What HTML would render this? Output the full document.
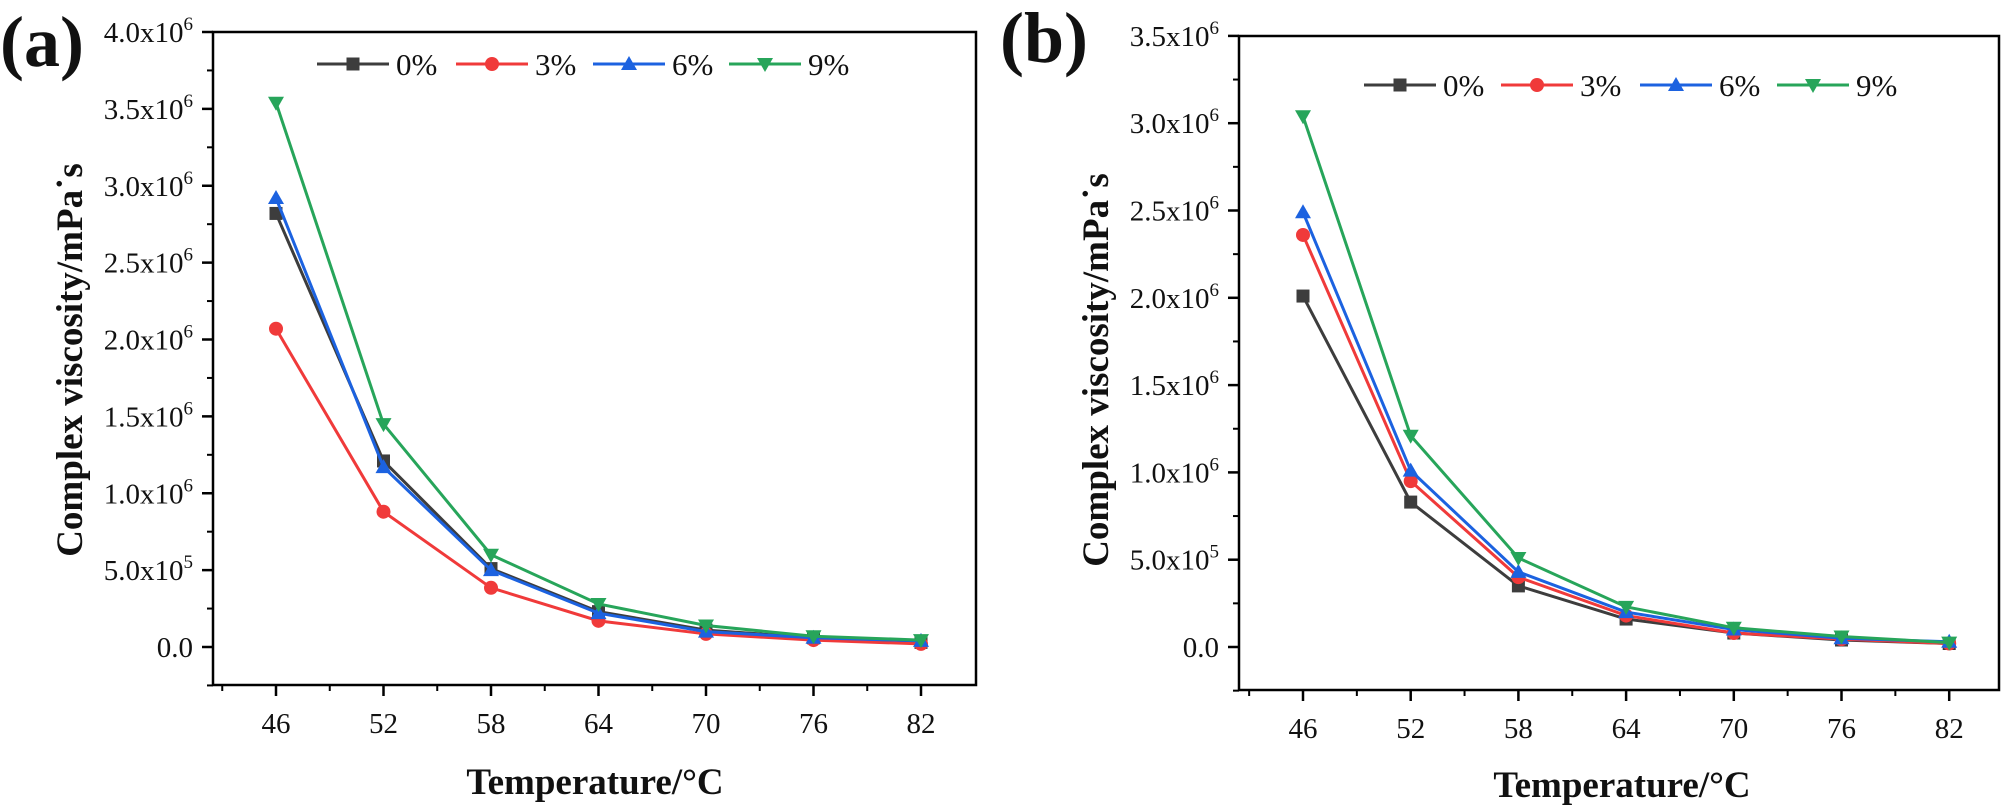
<!DOCTYPE html>
<html><head><meta charset="utf-8"><style>
html,body{margin:0;padding:0;background:#fff;}
svg{display:block;font-family:"Liberation Serif","DejaVu Serif",serif;}
svg text{font-family:"Liberation Serif","DejaVu Serif",serif;}
</style></head><body>
<svg id="chart" width="2001" height="808" viewBox="0 0 2001 808" xmlns="http://www.w3.org/2000/svg" font-family="Liberation Serif, DejaVu Serif, serif"></svg>
<script>
const categories = [46, 52, 58, 64, 70, 76, 82];
const seriesNames = ["0%", "3%", "6%", "9%"];
const a0 = [2.82, 1.21, 0.51, 0.23, 0.11, 0.06, 0.03];
const a3 = [2.07, 0.88, 0.385, 0.17, 0.085, 0.045, 0.02];
const a6 = [2.92, 1.17, 0.50, 0.22, 0.10, 0.06, 0.04];
const a9 = [3.54, 1.45, 0.60, 0.28, 0.14, 0.07, 0.045];
const b0 = [2.01, 0.83, 0.35, 0.16, 0.08, 0.04, 0.02];
const b3 = [2.36, 0.95, 0.40, 0.18, 0.08, 0.045, 0.02];
const b6 = [2.49, 1.01, 0.43, 0.20, 0.10, 0.05, 0.03];
const b9 = [3.04, 1.21, 0.51, 0.23, 0.11, 0.06, 0.025];
const yTicksA = ["0.0", "5.0x10|5", "1.0x10|6", "1.5x10|6", "2.0x10|6", "2.5x10|6", "3.0x10|6", "3.5x10|6", "4.0x10|6"];
const yTicksB = ["0.0", "5.0x10|5", "1.0x10|6", "1.5x10|6", "2.0x10|6", "2.5x10|6", "3.0x10|6", "3.5x10|6"];

const NS = "http://www.w3.org/2000/svg";
const FONT = '"Liberation Serif", "DejaVu Serif", serif';
const svg = document.getElementById("chart");
const colors = ["#3d3d3d", "#f03a3a", "#1c62e0", "#27a55a"];
const markers = ["square", "circle", "up", "down"];

function mk(tag, attrs, parent) {
  const e = document.createElementNS(NS, tag);
  for (const k in attrs) e.setAttribute(k, attrs[k]);
  if (tag === "text") e.style.fontFamily = FONT;
  (parent || svg).appendChild(e);
  return e;
}
function marker(g, type, x, y, c) {
  let m;
  if (type === "square") m = mk("rect", {x: x-6.5, y: y-6.5, width: 13, height: 13, fill: c}, g);
  else if (type === "circle") m = mk("circle", {cx: x, cy: y, r: 7, fill: c}, g);
  else if (type === "up") m = mk("polygon", {points: `${x},${y-8} ${x-8},${y+6} ${x+8},${y+6}`, fill: c}, g);
  else m = mk("polygon", {points: `${x},${y+8} ${x-8},${y-6} ${x+8},${y-6}`, fill: c}, g);
  
  
  return m;
}

function panel(p) {
  const g = mk("g", {});
  
  
  const xs = v => p.x46 + (v - 46) * p.pxPerUnit;
  const ys = v => p.y0 - v * p.pxPerM;
  const fr = mk("rect", {x: p.L, y: p.T, width: p.R - p.L, height: p.B - p.T, fill: "none", stroke: "#000", "stroke-width": 2.5}, g);
  
  
  p.yTicks.forEach((lab, i) => {
    const v = i * 0.5, y = ys(v);
    mk("line", {x1: p.L - 11, x2: p.L, y1: y, y2: y, stroke: "#000", "stroke-width": 2.5}, g);
    if (i < p.yTicks.length - 1) mk("line", {x1: p.L - 6, x2: p.L, y1: ys(v + 0.25), y2: ys(v + 0.25), stroke: "#000", "stroke-width": 2}, g);
    const t = mk("text", {x: p.L - 20, y: y + 10, "text-anchor": "end", "font-size": 29, fill: "#111"}, g);
    
    
    const parts = lab.split("|");
    if (parts.length === 1) t.textContent = parts[0];
    else {
      const s1 = mk("tspan", {}, t); s1.textContent = parts[0];
      const s2 = mk("tspan", {dy: -12, "font-size": 19}, t); s2.textContent = parts[1];
    }
  });
  mk("line", {x1: p.L - 6, x2: p.L, y1: ys(-0.25), y2: ys(-0.25), stroke: "#000", "stroke-width": 2}, g);
  categories.forEach((c, i) => {
    const x = xs(c);
    mk("line", {x1: x, x2: x, y1: p.B, y2: p.B + 11, stroke: "#000", "stroke-width": 2.5}, g);
    if (i < categories.length - 1) mk("line", {x1: xs(c + 3), x2: xs(c + 3), y1: p.B, y2: p.B + 6, stroke: "#000", "stroke-width": 2}, g);
    const t = mk("text", {x: x, y: p.B + 48, "text-anchor": "middle", "font-size": 29, fill: "#111"}, g);
    
    
    t.textContent = c;
  });
  mk("line", {x1: xs(43), x2: xs(43), y1: p.B, y2: p.B + 6, stroke: "#000", "stroke-width": 2}, g);
  p.series.forEach((vals, si) => {
    const sg = mk("g", {}, g);
    
    
    const pts = vals.map((v, i) => xs(categories[i]) + "," + ys(v)).join(" ");
    const pl = mk("polyline", {points: pts, fill: "none", stroke: colors[si], "stroke-width": 3}, sg);
    
    
    vals.forEach((v, i) => marker(sg, markers[si], xs(categories[i]), ys(v), colors[si]));
  });
  const lg = mk("g", {}, g);
  
  
  seriesNames.forEach((n, i) => {
    const lx = p.legX[i];
    const e = mk("g", {}, lg);
    
    
    mk("line", {x1: lx, x2: lx + 72, y1: p.legY, y2: p.legY, stroke: colors[i], "stroke-width": 3}, e);
    marker(e, markers[i], lx + 36, p.legY, colors[i]);
    const t = mk("text", {x: lx + 79, y: p.legY + 11, "font-size": 31, fill: "#111"}, e);
    t.textContent = n;
  });
  const xt = mk("text", {x: p.xtX, y: p.xtY, "text-anchor": "middle", "font-size": 37, "font-weight": "bold", fill: "#111"}, g);
  
  
  xt.textContent = "Temperature/\u00b0C";
  const yt = mk("text", {x: 0, y: 0, "text-anchor": "middle", "font-size": 37, "font-weight": "bold", fill: "#111", transform: `translate(${p.ytX},${p.ytY}) rotate(-90)`}, g);
  
  
  yt.textContent = "Complex viscosity/mPa\u02d9s";
  const pl = mk("text", {x: p.labX, y: p.labY, "font-size": 72, "font-weight": "bold", fill: "#111"}, g);
  
  
  pl.textContent = p.label;
}

panel({name: "panel-a", label: "(a)", labX: 0, labY: 66, L: 213, R: 976, T: 32, B: 685,
  x46: 276, pxPerUnit: 107.5 / 6, y0: 647, pxPerM: 153.75, yTicks: yTicksA,
  series: [a0, a3, a6, a9], legX: [317, 456, 593, 729], legY: 64,
  xtX: 595, xtY: 794, ytX: 82, ytY: 360});
panel({name: "panel-b", label: "(b)", labX: 1000, labY: 62, L: 1239, R: 1999, T: 36, B: 690,
  x46: 1303, pxPerUnit: 107.7 / 6, y0: 647, pxPerM: 174.6, yTicks: yTicksB,
  series: [b0, b3, b6, b9], legX: [1364, 1501, 1640, 1777], legY: 85,
  xtX: 1622, xtY: 797, ytX: 1108, ytY: 370});
</script>
</body></html>
